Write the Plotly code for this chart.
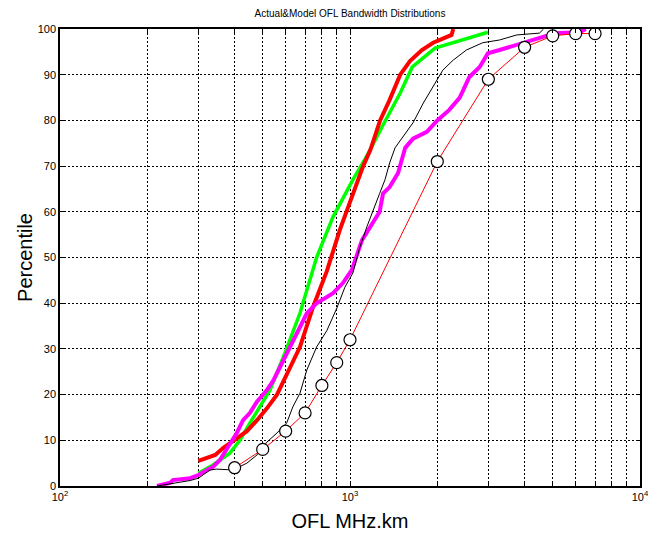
import plotly.graph_objects as go

# ---- data ----
red_x = [300, 343, 365, 400, 441, 478, 517, 560, 600, 672, 744, 832, 922, 1023, 1066, 1110, 1175, 1270, 1370, 1490, 1610, 1770, 1935, 2090, 2240, 2270]
red_y = [5.5, 6.8, 8.3, 10, 12, 14.4, 17, 20, 24, 30.4, 39, 47, 56, 64, 67, 70, 73.5, 80, 84.5, 90, 93, 95.4, 97, 98, 98.7, 100]

green_x = [300, 337, 385, 417, 452, 489, 530, 600, 672, 767, 874, 1023, 1150, 1300, 1490, 1640, 1965, 2990]
green_y = [2.8, 4.6, 7.2, 10, 13.8, 17.3, 21, 29.5, 37.8, 50, 58.9, 67, 72.5, 79, 86, 91.7, 95.8, 99.3]

mag_x = [216, 240, 245, 281, 300, 337, 356, 385, 407, 428, 452, 477, 517, 543, 600, 672, 710, 767, 874, 945, 1015, 1100, 1190, 1265, 1300, 1370, 1465, 1510, 1550, 1650, 1840, 2000, 2200, 2390, 2580, 2800, 2990, 3280, 3760, 4250, 4750, 5280, 6200, 6500]
mag_y = [0, 0.7, 1.3, 1.7, 2.4, 4.2, 5.7, 9, 11.6, 14.4, 16, 18.4, 21, 23, 28.5, 34.8, 37.8, 40, 42.2, 44.4, 47.3, 53.8, 57.5, 60, 64, 65.4, 68.5, 71.3, 74, 76, 77.5, 80, 82.3, 85, 89.5, 91.7, 94.7, 95.4, 96.5, 97.6, 98.5, 99.1, 99.3, 100]

blk_x = [216, 281, 300, 329, 347, 395, 441, 478, 517, 560, 605, 635, 672, 710, 767, 832, 902, 960, 1023, 1082, 1143, 1200, 1265, 1320, 1370, 1430, 1520, 1650, 1790, 1935, 2090, 2270, 2520, 2870, 3280, 3760, 4500, 4650]
blk_y = [0, 1.2, 1.7, 3.5, 3.7, 3.5, 5, 6.8, 9.6, 11.6, 13.8, 17.3, 20.3, 25.4, 30.4, 34, 39, 43.5, 46.6, 52.3, 56.7, 60.4, 64, 67, 70.7, 74, 76.4, 79.5, 83.8, 87.3, 91, 93.2, 95.4, 97, 97.6, 98.7, 99.1, 100]

circ_x = [400, 500, 600, 700, 800, 900, 1000, 2000, 3000, 4000, 5000, 6000, 7000]
circ_y = [4, 8, 12, 16, 22, 27, 32, 71, 89, 96, 98.5, 99, 99]

x_tickvals = [100, 200, 300, 400, 500, 600, 700, 800, 900,
              1000, 2000, 3000, 4000, 5000, 6000, 7000, 8000, 9000, 10000]
x_ticktext = ["10<sup>2</sup>", "", "", "", "", "", "", "", "",
              "10<sup>3</sup>", "", "", "", "", "", "", "", "", "10<sup>4</sup>"]
y_tickvals = [0, 10, 20, 30, 40, 50, 60, 70, 80, 90, 100]

FONT = "Liberation Sans, Arial, sans-serif"

fig = go.Figure()
fig.add_trace(go.Scatter(x=green_x, y=green_y, mode="lines",
                         line=dict(color="#00FF00", width=3.5)))
fig.add_trace(go.Scatter(x=red_x, y=red_y, mode="lines",
                         line=dict(color="#FF0000", width=4)))
fig.add_trace(go.Scatter(x=mag_x, y=mag_y, mode="lines",
                         line=dict(color="#FF00FF", width=4)))
fig.add_trace(go.Scatter(x=blk_x, y=blk_y, mode="lines",
                         line=dict(color="black", width=1)))
fig.add_trace(go.Scatter(x=circ_x, y=circ_y, mode="lines+markers",
                         line=dict(color="#FF0000", width=1),
                         marker=dict(symbol="circle", size=12, color="white",
                                     line=dict(color="black", width=1.2))))

fig.update_layout(
    width=648, height=538,
    paper_bgcolor="white", plot_bgcolor="white",
    showlegend=False,
    margin=dict(l=60, r=8, t=29, b=52, autoexpand=False),
    font=dict(family=FONT, color="black", size=11),
    title=dict(text="Actual&Model OFL Bandwidth Distributions",
               x=350 / 648, xanchor="center", y=1 - 13 / 538, yanchor="middle",
               font=dict(size=10, family=FONT, color="black")),
)
fig.update_xaxes(
    type="log", range=[2, 4], automargin=False,
    tickmode="array", tickvals=x_tickvals, ticktext=x_ticktext,
    ticklabeloverflow="allow",
    showgrid=True, gridcolor="black", griddash="2px,2px", gridwidth=1.4,
    showline=True, linecolor="black", linewidth=1.5, mirror="ticks",
    ticks="inside", ticklen=4, tickcolor="black",
    tickfont=dict(size=11, family=FONT),
    title=dict(text="OFL MHz.km", font=dict(size=20, family=FONT), standoff=12),
    zeroline=False,
)
fig.update_yaxes(
    range=[0, 100], automargin=False,
    tickmode="array", tickvals=y_tickvals,
    showgrid=True, gridcolor="black", griddash="2px,2px", gridwidth=1.4,
    showline=True, linecolor="black", linewidth=1.5, mirror="ticks",
    ticks="inside", ticklen=4, tickcolor="black",
    tickfont=dict(size=11, family=FONT),
    title=dict(text="Percentile", font=dict(size=20, family=FONT), standoff=0),
    zeroline=False,
)

fig.write_html("out.html")
